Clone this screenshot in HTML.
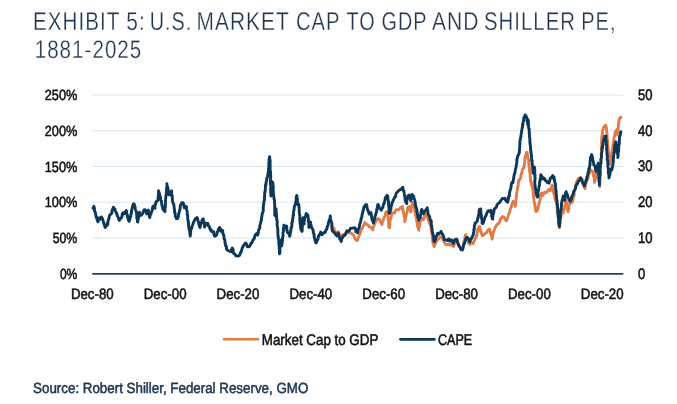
<!DOCTYPE html>
<html lang="en"><head><meta charset="utf-8"><title>Exhibit 5: U.S. Market Cap to GDP and Shiller PE, 1881-2025</title>
<style>
html,body{margin:0;padding:0;background:#fff;}
body{width:677px;height:404px;overflow:hidden;}
svg{display:block;will-change:transform;}

text{font-family:"Liberation Sans",Arial,sans-serif;text-rendering:geometricPrecision;}
</style></head>
<body>
<svg width="677" height="404" viewBox="0 0 677 404">
<rect width="677" height="404" fill="#ffffff"/>
<g class="title" letter-spacing="1.3" stroke="#ffffff" stroke-width="0.3">
<text y="29.5" font-size="25.7" fill="#20364c"><tspan x="33.05" textLength="87.04" lengthAdjust="spacingAndGlyphs">EXHIBIT</tspan> <tspan x="126.37" textLength="19.59" lengthAdjust="spacingAndGlyphs">5:</tspan> <tspan x="149.69" textLength="42.59" lengthAdjust="spacingAndGlyphs">U.S.</tspan> <tspan x="196.51" textLength="92.97" lengthAdjust="spacingAndGlyphs">MARKET</tspan> <tspan x="295.90" textLength="44.20" lengthAdjust="spacingAndGlyphs">CAP</tspan> <tspan x="346.50" textLength="29.20" lengthAdjust="spacingAndGlyphs">TO</tspan> <tspan x="381.53" textLength="45.58" lengthAdjust="spacingAndGlyphs">GDP</tspan> <tspan x="431.95" textLength="47.65" lengthAdjust="spacingAndGlyphs">AND</tspan> <tspan x="483.99" textLength="92.09" lengthAdjust="spacingAndGlyphs">SHILLER</tspan> <tspan x="581.26" textLength="35.26" lengthAdjust="spacingAndGlyphs">PE,</tspan></text>
<text x="34.7" y="57.65" font-size="25.4" textLength="107.6" lengthAdjust="spacingAndGlyphs" fill="#20364c" text-anchor="start" >1881-2025</text>
</g>
<g stroke="#d8e6ef" stroke-width="1.05"><line x1="92.3" x2="623.3" y1="238.05" y2="238.05"/><line x1="92.3" x2="623.3" y1="202.30" y2="202.30"/><line x1="92.3" x2="623.3" y1="166.55" y2="166.55"/><line x1="92.3" x2="623.3" y1="130.80" y2="130.80"/><line x1="92.3" x2="623.3" y1="95.05" y2="95.05"/></g>
<g class="ylabels" stroke="#111" stroke-width="0.55"><text x="77.3" y="278.7" font-size="14.7" textLength="17.4" lengthAdjust="spacingAndGlyphs" fill="#111" text-anchor="end" >0%</text><text x="77.3" y="243.1" font-size="14.7" textLength="24.6" lengthAdjust="spacingAndGlyphs" fill="#111" text-anchor="end" >50%</text><text x="77.3" y="206.7" font-size="14.7" textLength="32.5" lengthAdjust="spacingAndGlyphs" fill="#111" text-anchor="end" >100%</text><text x="77.3" y="171.5" font-size="14.7" textLength="32.5" lengthAdjust="spacingAndGlyphs" fill="#111" text-anchor="end" >150%</text><text x="77.3" y="135.8" font-size="14.7" textLength="32.5" lengthAdjust="spacingAndGlyphs" fill="#111" text-anchor="end" >200%</text><text x="77.3" y="99.7" font-size="14.7" textLength="32.5" lengthAdjust="spacingAndGlyphs" fill="#111" text-anchor="end" >250%</text></g>
<g class="rlabels" stroke="#111" stroke-width="0.55"><text x="637.9" y="278.6" font-size="15.2" textLength="7.2" lengthAdjust="spacingAndGlyphs" fill="#111" text-anchor="start" >0</text><text x="637.9" y="243.0" font-size="15.2" textLength="14.5" lengthAdjust="spacingAndGlyphs" fill="#111" text-anchor="start" >10</text><text x="637.9" y="206.6" font-size="15.2" textLength="14.5" lengthAdjust="spacingAndGlyphs" fill="#111" text-anchor="start" >20</text><text x="637.9" y="171.4" font-size="15.2" textLength="14.5" lengthAdjust="spacingAndGlyphs" fill="#111" text-anchor="start" >30</text><text x="637.9" y="135.7" font-size="15.2" textLength="14.5" lengthAdjust="spacingAndGlyphs" fill="#111" text-anchor="start" >40</text><text x="637.9" y="99.6" font-size="15.2" textLength="14.5" lengthAdjust="spacingAndGlyphs" fill="#111" text-anchor="start" >50</text></g>
<path d="M332.5,226.2 L333.1,227.1 L334.0,228.5 L334.7,230.2 L335.3,231.6 L336.1,232.8 L336.9,233.6 L337.8,233.7 L338.4,231.8 L339.1,234.1 L339.5,234.3 L340.2,234.9 L341.7,236.5 L343.0,234.6 L344.5,234.3 L344.8,235.4 L346.1,234.0 L347.0,232.5 L348.8,232.3 L351.1,233.1 L352.9,234.4 L353.5,235.0 L354.3,236.8 L354.5,237.8 L355.3,239.4 L356.1,239.7 L356.9,240.6 L357.3,240.5 L357.9,238.8 L358.2,238.0 L358.9,236.6 L359.3,235.1 L359.6,234.4 L360.0,232.8 L360.7,232.3 L361.1,230.5 L361.5,229.2 L362.5,228.3 L363.2,225.8 L363.7,225.4 L364.2,224.1 L364.9,222.6 L366.9,224.6 L367.9,224.8 L369.1,226.8 L370.9,227.1 L371.9,228.8 L372.9,229.8 L373.1,227.7 L373.6,227.1 L374.4,224.6 L374.6,223.4 L375.3,222.5 L376.2,220.8 L376.6,220.0 L377.4,219.3 L378.4,218.5 L378.8,219.3 L379.6,219.4 L380.4,221.6 L381.0,222.6 L381.4,223.0 L382.0,224.4 L382.4,222.1 L383.0,221.0 L383.5,219.4 L383.7,218.3 L384.2,217.4 L384.5,217.0 L385.2,214.6 L385.5,213.5 L386.0,211.9 L386.8,211.9 L387.0,212.4 L387.2,213.2 L387.7,214.8 L388.1,215.9 L387.8,218.5 L388.2,218.5 L388.4,219.6 L388.5,222.4 L388.8,223.3 L388.7,224.1 L388.7,226.0 L389.1,227.3 L389.1,227.7 L389.5,227.7 L389.7,226.2 L389.9,224.9 L389.8,223.3 L390.0,221.3 L390.0,220.5 L390.3,219.9 L390.9,218.3 L391.0,217.9 L391.5,215.7 L391.6,214.2 L392.0,212.9 L392.7,212.8 L394.4,213.1 L395.0,212.3 L395.3,210.7 L396.4,209.6 L398.4,210.1 L399.1,209.3 L400.2,208.0 L402.5,206.5 L402.5,208.7 L402.9,208.7 L402.9,210.0 L403.6,212.3 L403.5,213.6 L404.1,214.7 L404.0,215.9 L404.1,216.4 L404.7,218.7 L404.7,220.5 L404.8,221.8 L405.3,219.5 L405.3,218.4 L405.6,217.7 L405.9,216.2 L406.1,215.8 L406.5,213.7 L406.9,213.0 L407.1,211.6 L407.4,209.6 L407.7,207.3 L409.3,206.6 L409.4,208.8 L409.9,209.6 L410.6,211.0 L410.8,212.1 L411.1,211.3 L411.0,209.7 L411.3,208.0 L411.7,207.1 L411.8,206.3 L412.2,204.5 L412.2,203.3 L412.3,202.4 L413.0,203.6 L413.7,205.8 L414.0,206.9 L414.4,207.1 L414.5,209.4 L414.8,209.3 L414.7,211.0 L415.0,212.1 L415.3,214.2 L415.9,216.0 L415.9,217.1 L416.4,217.6 L416.7,220.2 L416.6,221.5 L416.9,222.0 L417.4,223.8 L417.1,224.5 L417.5,225.6 L417.6,226.9 L418.3,227.9 L418.8,230.1 L418.7,228.5 L419.3,227.4 L419.2,226.8 L419.8,225.3 L419.7,222.8 L420.1,222.4 L420.5,220.1 L420.9,220.1 L421.5,217.8 L423.2,219.8 L424.1,218.1 L424.5,215.8 L425.4,215.0 L425.8,214.8 L426.8,213.6 L426.8,214.9 L427.0,216.2 L427.5,216.6 L427.8,218.8 L428.1,218.9 L428.6,220.4 L428.8,221.6 L429.4,223.2 L430.3,224.9 L430.7,226.2 L430.8,227.3 L431.0,228.4 L431.2,229.8 L431.7,232.0 L431.6,233.2 L432.2,233.8 L432.2,235.6 L432.2,237.5 L432.3,238.2 L432.6,240.3 L432.6,241.3 L432.9,242.2 L432.9,243.0 L433.5,244.2 L434.2,246.7 L434.7,244.4 L435.1,244.1 L436.0,242.5 L436.5,240.8 L437.3,240.2 L438.0,238.9 L438.9,238.4 L440.3,237.0 L440.9,237.0 L441.6,237.0 L442.2,238.0 L443.1,239.7 L443.7,241.3 L444.4,242.4 L445.2,244.1 L447.2,244.5 L449.4,244.4 L451.5,245.3 L453.6,246.5 L454.1,245.5 L454.5,243.3 L455.3,241.7 L455.9,241.5 L456.3,240.8 L457.2,241.8 L457.5,243.4 L457.7,244.3 L458.7,245.8 L459.7,246.8 L460.4,248.4 L461.2,249.6 L462.4,248.5 L462.6,247.7 L462.9,247.0 L463.4,245.3 L463.7,243.9 L463.9,241.5 L464.3,241.5 L464.5,240.0 L464.8,238.0 L465.1,237.2 L465.1,236.0 L465.6,234.7 L466.4,237.2 L466.9,237.4 L467.3,239.3 L467.9,240.6 L468.2,241.2 L468.4,242.9 L470.1,244.6 L470.8,242.8 L471.3,241.9 L473.3,243.6 L473.9,241.6 L474.4,240.6 L475.0,238.7 L475.7,237.5 L476.3,237.3 L476.4,235.2 L477.0,234.8 L477.1,232.5 L477.3,232.4 L477.6,230.6 L477.8,229.3 L478.9,227.1 L479.6,226.2 L479.9,227.8 L479.9,229.3 L480.4,229.1 L480.5,231.0 L481.0,231.9 L481.6,233.5 L482.3,235.8 L483.8,234.7 L486.2,232.6 L486.9,232.6 L487.6,230.9 L488.0,230.1 L489.7,229.0 L489.8,230.1 L490.2,230.8 L490.5,233.4 L491.0,235.0 L491.3,235.2 L491.7,236.4 L492.0,239.0 L492.5,237.4 L492.7,236.1 L493.1,234.1 L493.3,231.9 L493.6,231.2 L494.4,230.0 L495.0,227.5 L496.0,226.3 L496.4,225.3 L497.0,224.6 L499.3,222.8 L499.7,221.6 L500.1,220.5 L500.4,218.9 L501.0,218.8 L502.1,216.7 L503.3,217.0 L503.9,216.9 L504.6,218.1 L505.4,219.3 L506.0,220.8 L506.7,220.5 L507.3,218.4 L507.7,217.2 L508.2,215.6 L508.5,214.2 L509.4,212.6 L509.6,212.1 L510.1,210.2 L510.2,209.0 L510.7,208.1 L511.3,207.4 L511.6,204.9 L511.6,204.7 L512.4,203.1 L513.0,201.3 L513.7,201.8 L514.3,202.9 L514.7,203.2 L514.6,204.3 L515.2,206.4 L515.6,205.1 L515.7,203.7 L515.8,202.0 L515.8,201.0 L516.0,199.8 L516.4,197.4 L516.3,195.9 L516.7,195.2 L516.6,192.8 L517.0,192.2 L517.3,189.6 L517.6,187.9 L517.6,187.4 L518.1,186.4 L518.3,184.8 L518.1,183.1 L518.7,182.6 L518.5,180.2 L519.5,180.0 L520.4,178.1 L520.8,177.9 L520.9,175.2 L521.2,174.6 L521.6,173.0 L522.0,172.6 L522.1,170.5 L522.6,169.5 L523.4,168.1 L524.1,167.7 L524.2,166.8 L524.4,164.3 L524.4,163.4 L524.8,163.1 L524.6,160.9 L524.8,160.6 L524.9,157.9 L525.0,157.2 L525.5,156.7 L525.6,155.7 L526.3,153.1 L526.5,152.5 L527.1,152.4 L527.4,154.4 L527.5,155.7 L527.8,156.6 L528.0,158.4 L528.5,159.3 L528.7,160.6 L528.6,162.8 L529.0,163.5 L528.8,164.8 L529.1,166.7 L529.1,167.1 L529.6,167.8 L529.4,170.3 L529.7,170.3 L529.5,171.6 L530.0,173.1 L530.1,175.4 L530.0,175.6 L530.4,177.4 L530.3,178.8 L530.5,179.3 L530.6,181.4 L531.3,182.4 L531.5,182.7 L531.5,184.8 L532.3,187.0 L532.5,187.4 L532.6,189.0 L533.0,189.7 L533.0,191.8 L533.2,193.1 L533.2,193.6 L533.2,194.9 L533.6,195.8 L533.6,198.2 L533.8,198.4 L534.0,200.5 L534.3,202.6 L534.9,203.9 L534.7,203.8 L534.8,205.7 L535.3,206.9 L535.2,208.2 L535.6,209.9 L535.8,211.4 L536.0,211.6 L537.4,210.8 L537.6,209.8 L538.0,208.3 L538.0,207.1 L538.2,207.0 L538.7,204.9 L538.9,204.7 L539.2,202.3 L539.6,201.8 L539.9,199.7 L539.9,199.6 L540.3,198.6 L540.2,196.4 L540.5,195.0 L541.2,194.4 L541.5,192.9 L542.3,194.0 L542.8,195.5 L543.8,193.0 L544.4,192.3 L546.2,192.9 L546.8,191.6 L547.5,191.2 L548.4,189.6 L550.1,190.8 L550.8,189.4 L551.0,188.2 L551.7,187.5 L551.7,185.6 L552.3,185.1 L552.6,185.7 L552.6,188.0 L553.0,188.7 L553.2,191.1 L553.4,191.8 L553.7,192.9 L554.3,195.1 L554.3,195.0 L554.8,196.2 L554.8,198.5 L555.3,199.6 L555.8,201.1 L556.3,201.2 L556.5,203.2 L557.0,205.0 L556.8,205.7 L557.1,206.7 L557.1,207.6 L557.4,209.8 L557.3,210.3 L557.8,212.3 L557.6,212.2 L558.1,214.7 L558.0,214.5 L558.3,216.2 L558.4,217.8 L558.6,218.2 L558.7,219.6 L558.6,221.8 L559.0,221.9 L558.8,223.5 L559.1,224.6 L559.0,225.6 L559.5,227.9 L559.3,226.0 L559.9,223.9 L560.1,222.7 L560.2,222.1 L560.4,220.5 L560.5,219.6 L560.7,218.4 L561.0,216.8 L560.9,215.7 L561.4,213.7 L561.7,213.3 L561.8,211.0 L562.0,209.5 L562.5,211.6 L563.2,213.1 L563.7,211.0 L564.0,209.7 L564.4,209.4 L564.5,206.8 L564.8,205.9 L565.2,204.3 L565.4,204.5 L565.5,203.0 L565.4,202.1 L565.8,200.8 L566.3,200.8 L566.5,203.3 L566.5,203.6 L567.1,204.6 L567.4,206.2 L567.6,207.4 L567.6,210.0 L567.7,210.4 L568.0,211.9 L568.0,210.4 L568.3,210.4 L568.9,209.0 L568.8,207.6 L569.0,206.0 L569.5,204.5 L569.8,203.6 L569.9,202.9 L569.8,201.9 L570.8,202.0 L571.6,202.7 L572.4,201.7 L572.8,200.5 L573.1,198.3 L573.6,196.9 L573.9,196.0 L574.1,195.9 L574.2,193.5 L574.3,191.0 L574.5,189.9 L575.0,188.9 L575.3,188.2 L575.4,185.8 L576.0,184.2 L576.1,183.5 L576.6,182.2 L577.0,181.3 L578.0,179.2 L578.8,178.1 L580.0,177.9 L580.8,178.1 L581.6,180.4 L582.3,181.9 L582.4,182.3 L582.6,184.2 L583.2,185.0 L584.1,186.6 L585.0,188.6 L585.0,187.6 L585.3,185.8 L585.8,184.0 L586.0,183.6 L586.4,182.0 L587.2,180.1 L587.3,179.6 L587.8,178.4 L588.3,176.4 L588.4,175.3 L588.6,175.0 L589.4,173.5 L589.8,172.2 L590.9,170.1 L592.3,171.1 L592.6,171.8 L593.0,173.1 L593.5,175.6 L593.9,177.1 L594.1,177.6 L594.3,179.3 L594.6,180.8 L594.5,182.4 L595.1,180.5 L595.2,179.0 L595.1,178.1 L595.6,178.1 L595.8,175.9 L596.1,174.7 L596.0,174.4 L596.4,172.9 L596.7,172.1 L596.8,170.7 L597.2,169.5 L597.4,168.1 L597.7,166.2 L597.8,165.5 L598.0,164.8 L598.2,164.7 L598.4,167.5 L598.7,167.6 L598.7,168.7 L599.2,171.0 L599.4,172.5 L599.1,173.5 L599.3,175.2 L599.5,176.5 L599.2,177.8 L599.6,179.1 L599.3,179.2 L599.3,180.2 L599.7,182.7 L599.6,184.0 L599.7,184.4 L599.4,185.3 L599.8,186.7 L599.6,185.9 L599.5,184.4 L599.7,183.9 L599.8,182.0 L600.2,181.1 L600.2,180.1 L599.8,178.5 L600.1,177.9 L600.1,176.6 L600.3,174.6 L600.5,173.1 L600.5,172.0 L600.2,170.9 L600.6,170.9 L600.3,168.8 L600.6,168.1 L600.5,166.3 L600.7,165.6 L600.7,164.5 L600.8,162.0 L601.1,161.2 L600.9,160.1 L600.9,159.1 L601.3,157.8 L601.3,155.8 L601.2,154.6 L601.5,152.9 L601.5,151.5 L601.2,150.6 L601.6,149.7 L601.4,149.0 L601.3,147.1 L601.5,146.2 L601.7,144.8 L601.5,143.0 L601.4,142.6 L601.7,141.1 L601.5,139.3 L601.8,138.3 L601.7,136.8 L602.3,135.1 L602.1,133.8 L602.6,133.4 L602.5,130.9 L602.7,129.9 L603.4,128.3 L603.7,127.0 L604.5,126.5 L605.5,125.2 L605.7,125.7 L606.4,127.8 L606.6,128.6 L606.5,130.4 L606.6,130.9 L606.8,131.9 L606.9,134.4 L607.2,135.2 L607.2,136.5 L607.1,138.0 L607.3,139.5 L607.6,140.2 L607.5,142.0 L607.6,142.5 L607.8,144.8 L607.9,145.8 L608.1,147.0 L608.1,148.0 L608.0,149.5 L608.0,150.5 L608.5,152.2 L608.5,152.7 L608.5,154.4 L608.7,155.6 L608.9,157.7 L608.7,158.5 L609.2,159.3 L609.3,161.4 L609.3,161.9 L609.5,163.5 L610.1,164.3 L609.9,163.2 L610.3,162.2 L610.5,160.9 L610.9,159.5 L610.9,159.0 L611.0,157.3 L611.3,156.3 L611.3,155.4 L611.6,152.7 L611.8,152.1 L611.9,150.9 L612.3,150.1 L612.4,148.2 L612.6,147.8 L613.1,146.2 L612.9,145.3 L613.2,143.1 L613.2,142.6 L613.7,141.1 L613.7,139.6 L613.8,138.9 L614.1,137.2 L614.6,136.3 L614.7,134.2 L615.1,132.7 L615.5,131.9 L616.7,129.8 L616.7,131.0 L616.9,132.1 L616.9,134.3 L617.2,134.7 L617.4,133.8 L617.6,132.8 L617.8,131.1 L618.1,130.6 L617.8,129.2 L618.4,127.9 L618.2,126.6 L618.6,123.9 L618.5,124.0 L619.0,121.5 L618.9,119.9 L619.2,119.5 L620.0,117.5 L621.0,117.5" fill="none" stroke="#e07b48" stroke-width="2.85" stroke-linejoin="round" stroke-linecap="round"/>
<path d="M93.0,208.2 L93.9,206.3 L94.2,207.7 L94.5,208.0 L94.4,210.7 L94.7,210.9 L95.3,212.6 L95.5,213.7 L95.8,214.3 L96.1,216.7 L96.3,217.6 L96.7,217.5 L97.1,219.6 L97.2,219.8 L97.8,221.8 L98.1,221.4 L98.5,220.3 L98.7,218.9 L99.0,218.0 L99.8,217.8 L99.9,219.4 L101.0,218.4 L101.5,216.9 L102.3,218.6 L103.0,220.4 L103.5,222.2 L103.8,223.4 L104.3,224.7 L104.5,224.3 L104.9,227.0 L105.3,227.4 L106.2,225.8 L107.3,225.4 L107.3,223.3 L107.9,223.8 L107.9,222.2 L108.3,219.8 L108.6,219.7 L109.2,217.1 L109.5,215.7 L109.9,214.9 L110.3,214.7 L111.7,213.5 L112.0,210.7 L112.6,209.4 L112.8,208.9 L113.4,207.2 L113.5,207.3 L114.1,208.6 L114.9,208.8 L115.1,210.3 L115.7,211.6 L116.2,212.8 L117.0,213.9 L117.1,215.3 L117.3,215.7 L118.0,217.2 L118.2,217.4 L118.8,219.4 L119.3,220.5 L120.4,218.5 L121.2,218.2 L121.7,216.9 L122.1,216.4 L122.1,214.1 L122.9,214.6 L123.0,212.6 L124.8,213.5 L125.2,212.4 L125.6,211.9 L126.1,210.4 L126.6,211.1 L126.8,213.7 L126.9,214.1 L127.5,215.5 L127.4,217.1 L128.0,217.7 L128.1,219.3 L128.7,220.6 L129.0,221.3 L129.2,220.9 L129.9,219.4 L130.1,217.6 L130.4,216.5 L130.8,216.5 L130.7,214.3 L131.3,213.8 L131.5,212.1 L131.4,210.9 L132.0,209.7 L132.0,208.8 L132.3,207.6 L132.7,206.0 L132.5,206.3 L133.2,205.2 L133.2,204.0 L134.2,204.2 L134.9,206.8 L135.2,207.5 L135.3,208.5 L135.5,209.3 L136.0,211.0 L136.4,211.8 L136.6,214.2 L136.8,215.8 L137.0,216.4 L136.7,217.9 L136.9,218.3 L137.4,219.9 L137.4,221.9 L137.7,222.0 L137.7,221.6 L138.1,220.2 L138.2,217.9 L138.6,217.7 L138.6,216.3 L139.2,215.1 L139.4,212.3 L140.3,215.2 L141.0,215.4 L141.8,214.8 L142.5,213.7 L143.4,211.7 L143.7,210.8 L144.4,209.6 L145.5,209.9 L145.5,210.5 L146.0,211.4 L146.4,213.2 L146.9,214.0 L147.2,212.6 L147.6,211.7 L148.4,210.0 L148.3,210.8 L148.7,212.8 L149.1,213.5 L149.4,215.1 L149.4,215.9 L149.7,217.6 L150.0,216.4 L150.5,214.5 L150.9,214.1 L151.1,212.5 L151.6,212.1 L152.2,209.9 L152.5,209.4 L152.5,207.6 L152.8,207.0 L153.4,205.9 L154.3,207.0 L155.0,208.3 L154.9,207.2 L155.1,205.2 L155.7,203.9 L155.6,202.8 L156.3,201.8 L156.1,201.8 L157.5,200.8 L158.0,199.5 L158.2,197.7 L158.3,195.5 L158.4,195.0 L158.5,193.0 L158.7,193.2 L158.5,190.8 L159.3,193.2 L159.6,193.6 L159.8,195.6 L160.3,196.4 L160.4,197.6 L160.6,198.8 L160.7,200.2 L161.4,201.2 L161.5,201.9 L161.7,204.2 L162.0,204.9 L162.1,206.3 L162.5,206.6 L162.8,209.2 L164.0,210.3 L164.9,211.6 L164.9,209.6 L165.0,209.1 L165.1,207.3 L165.4,207.4 L165.2,205.8 L165.4,204.9 L165.5,202.7 L165.4,201.1 L165.6,200.6 L165.6,199.4 L165.7,199.0 L165.7,198.2 L165.9,196.3 L166.0,195.6 L166.3,193.9 L166.2,192.9 L166.5,191.2 L166.6,191.0 L166.5,188.4 L166.5,188.1 L166.8,187.3 L167.0,184.8 L166.8,183.7 L167.1,185.8 L167.8,187.5 L167.8,188.8 L168.0,189.2 L168.4,189.7 L168.3,192.2 L168.5,192.6 L168.8,194.3 L168.7,194.9 L170.3,194.1 L170.7,192.8 L171.6,190.9 L171.5,191.7 L171.6,194.0 L171.6,195.7 L172.2,195.6 L172.3,197.4 L172.4,199.3 L172.3,200.5 L172.8,202.0 L173.0,203.1 L173.7,204.3 L173.8,204.5 L174.0,206.2 L174.2,208.1 L174.3,208.5 L174.6,210.6 L174.5,212.4 L174.9,212.3 L175.2,213.6 L175.3,215.9 L175.7,216.8 L176.1,217.9 L176.3,218.7 L177.6,218.6 L178.2,217.2 L178.5,215.7 L178.5,214.5 L179.1,212.7 L179.2,211.9 L179.6,211.0 L179.6,209.9 L180.0,209.4 L180.1,208.3 L180.3,206.1 L180.6,204.7 L181.2,204.6 L181.9,202.6 L183.0,202.6 L183.5,203.8 L183.6,204.0 L183.8,205.3 L184.2,207.1 L184.3,207.8 L185.4,206.2 L186.2,206.5 L186.5,206.8 L186.5,208.4 L186.7,210.3 L186.9,210.3 L187.2,211.8 L187.3,213.4 L187.2,214.7 L187.7,215.5 L187.7,216.7 L187.7,218.1 L187.7,219.3 L188.2,220.4 L188.2,222.6 L188.5,222.4 L188.6,224.5 L188.4,225.3 L188.7,226.0 L189.0,228.7 L189.1,229.9 L189.4,229.8 L189.7,231.8 L189.9,233.3 L190.0,233.8 L190.2,236.1 L190.5,234.0 L190.7,233.0 L190.6,231.0 L190.8,230.1 L191.1,229.5 L191.6,228.4 L191.8,227.4 L192.2,225.8 L192.8,224.5 L192.9,224.2 L193.6,222.0 L194.1,221.3 L194.9,219.8 L195.2,218.7 L197.2,217.6 L197.5,219.0 L197.9,220.3 L198.5,221.7 L198.5,222.8 L198.9,224.7 L199.1,225.0 L199.6,226.9 L200.0,227.5 L200.2,226.9 L200.3,226.7 L200.7,224.0 L201.2,222.9 L201.6,222.0 L202.1,220.0 L203.2,218.9 L203.5,220.4 L203.8,221.2 L203.7,222.4 L204.2,224.2 L204.2,224.4 L204.6,227.1 L205.4,224.2 L205.9,223.1 L207.8,223.4 L208.3,225.9 L209.2,226.4 L209.8,228.3 L210.4,230.1 L211.1,229.5 L211.5,231.5 L213.8,231.6 L213.8,234.1 L214.1,234.4 L214.6,236.0 L215.2,236.2 L215.9,235.9 L216.8,234.3 L217.3,232.8 L217.5,231.5 L218.2,230.8 L218.4,229.1 L219.1,228.8 L219.5,227.4 L219.9,228.0 L220.6,228.9 L221.0,231.3 L222.7,230.5 L222.8,233.1 L223.3,234.5 L223.7,235.0 L224.0,236.8 L224.0,237.4 L224.1,238.8 L224.8,239.6 L224.9,240.9 L225.0,243.2 L225.3,243.4 L225.7,245.9 L226.3,246.1 L226.5,249.2 L226.9,249.8 L228.6,250.8 L230.7,251.8 L231.6,249.5 L232.3,248.1 L233.2,249.5 L233.3,252.4 L233.9,253.6 L234.9,254.0 L236.0,255.9 L238.2,256.0 L239.2,255.7 L240.0,254.5 L240.5,252.5 L241.1,252.3 L241.5,250.5 L241.7,249.9 L242.2,248.1 L242.5,247.7 L242.9,246.7 L243.7,245.3 L244.2,244.5 L245.6,243.0 L246.6,244.3 L246.9,245.2 L247.4,246.7 L248.8,246.7 L249.7,246.1 L250.3,245.0 L250.9,243.1 L251.8,243.0 L252.5,241.1 L253.0,239.8 L253.8,239.6 L254.3,238.3 L255.0,235.5 L256.0,234.3 L256.6,233.5 L257.0,234.7 L257.7,235.1 L257.9,234.5 L258.4,232.5 L258.3,231.3 L258.7,229.8 L258.8,229.8 L259.3,229.0 L259.8,227.7 L259.8,225.2 L260.1,224.5 L260.5,223.4 L260.7,222.8 L260.9,220.9 L261.5,220.4 L261.4,218.2 L261.9,216.6 L261.8,216.4 L262.2,214.5 L262.2,213.3 L262.7,212.5 L263.1,211.8 L263.3,209.1 L263.1,207.8 L263.4,207.1 L263.4,206.2 L263.5,204.6 L263.7,204.3 L263.9,202.2 L263.9,201.4 L264.3,200.7 L264.5,199.7 L264.3,197.3 L264.6,197.3 L264.6,196.1 L264.7,193.9 L264.7,192.3 L265.0,192.6 L265.2,190.7 L265.2,190.3 L265.4,188.5 L265.4,187.1 L265.5,185.2 L265.9,185.4 L266.0,183.1 L266.2,181.9 L266.6,180.7 L266.9,178.9 L266.7,178.3 L267.1,177.6 L267.7,176.5 L267.9,173.6 L268.3,173.3 L268.3,171.7 L268.5,171.7 L268.3,170.1 L268.5,168.6 L268.8,168.3 L268.8,165.7 L269.0,164.5 L268.8,164.6 L268.8,162.4 L269.2,162.4 L269.0,160.3 L269.1,158.7 L269.1,159.0 L269.6,156.7 L269.7,157.6 L269.9,159.9 L270.2,160.9 L270.2,160.9 L270.0,163.8 L269.9,163.7 L270.2,164.9 L270.2,165.6 L270.1,168.4 L270.1,169.5 L270.2,170.8 L270.5,171.3 L270.3,171.4 L270.6,172.9 L270.3,175.2 L270.7,175.0 L270.8,177.1 L270.5,177.5 L270.5,180.3 L270.5,180.0 L270.4,181.2 L270.6,183.8 L270.4,183.7 L270.9,186.4 L270.9,186.2 L270.6,188.7 L270.7,189.5 L270.7,189.4 L270.7,192.0 L270.9,192.8 L270.8,194.0 L270.8,195.2 L271.0,195.8 L271.0,196.0 L271.2,193.4 L271.3,193.5 L271.0,191.3 L271.1,189.7 L271.5,189.2 L271.6,187.5 L271.2,187.7 L271.7,186.8 L271.7,184.8 L271.8,182.9 L271.8,182.3 L271.7,181.5 L272.8,182.3 L272.9,183.1 L272.9,184.8 L273.3,186.6 L273.3,187.6 L273.1,189.0 L273.1,188.6 L273.3,190.9 L273.3,191.9 L273.3,193.7 L273.5,194.0 L273.6,195.8 L273.9,196.4 L273.9,197.7 L273.9,198.5 L274.6,200.3 L274.4,201.6 L274.6,203.0 L274.6,202.8 L274.7,205.2 L274.7,206.3 L274.8,206.5 L274.7,208.0 L274.7,208.9 L274.9,211.0 L274.8,210.8 L274.7,212.4 L274.9,213.2 L274.6,214.6 L274.8,215.3 L275.1,215.7 L275.2,214.2 L275.5,213.2 L275.7,211.3 L275.8,209.6 L276.1,208.9 L276.0,211.0 L276.0,211.0 L276.4,213.0 L276.1,213.2 L276.4,214.4 L276.7,215.9 L276.5,217.5 L276.8,218.8 L276.9,220.4 L277.0,220.7 L277.3,223.0 L277.0,223.7 L277.4,226.0 L277.2,225.4 L277.5,227.4 L277.9,229.3 L277.7,229.8 L277.9,231.9 L277.8,232.2 L277.9,233.9 L277.9,235.6 L278.3,236.2 L278.2,236.7 L278.5,239.1 L278.6,239.3 L278.9,241.1 L278.8,241.5 L278.8,244.0 L278.8,244.6 L279.1,245.5 L279.3,247.8 L279.5,248.7 L279.2,248.7 L279.5,250.5 L279.4,252.7 L279.5,253.9 L280.0,251.4 L280.1,250.7 L279.8,249.2 L279.8,248.6 L280.1,248.0 L280.4,245.4 L280.3,244.8 L280.3,243.4 L280.4,243.0 L280.5,240.7 L280.6,240.1 L281.0,241.0 L281.4,242.2 L281.7,244.2 L281.7,245.7 L282.0,244.1 L282.2,243.0 L282.2,240.7 L282.5,240.9 L282.5,239.1 L282.5,238.5 L282.9,236.0 L283.1,236.1 L282.9,234.9 L283.1,232.1 L283.4,231.2 L283.5,230.3 L283.3,229.0 L283.8,227.6 L283.8,227.1 L283.9,225.2 L284.6,227.3 L285.2,227.5 L285.9,226.8 L286.2,225.9 L286.7,226.4 L286.9,228.1 L286.9,228.3 L286.7,230.2 L287.3,230.8 L287.3,232.3 L288.6,233.6 L289.4,234.5 L289.7,236.3 L290.0,235.5 L290.2,233.7 L290.4,232.6 L290.8,230.9 L290.7,230.5 L291.0,229.3 L291.2,227.5 L291.5,227.7 L291.9,225.8 L291.8,223.7 L291.9,222.9 L292.5,221.4 L292.6,220.8 L292.6,219.2 L293.0,217.8 L293.0,217.2 L293.0,215.4 L293.5,215.2 L293.6,214.1 L293.4,212.5 L293.9,210.4 L294.0,210.5 L294.1,208.8 L294.2,207.4 L294.6,205.9 L295.0,205.3 L295.5,203.3 L295.8,201.9 L296.1,200.4 L296.1,199.8 L296.2,197.5 L296.3,197.4 L296.4,196.3 L296.8,195.5 L297.0,196.2 L296.9,196.1 L297.1,198.6 L297.4,198.8 L297.1,201.3 L297.6,201.6 L297.7,202.1 L297.7,204.2 L297.8,204.5 L298.6,204.3 L299.0,204.6 L298.7,205.7 L299.1,207.4 L299.1,209.6 L299.2,209.5 L299.3,210.1 L299.2,212.6 L299.2,212.5 L299.5,214.2 L299.8,215.0 L299.8,216.6 L299.8,217.9 L299.9,218.8 L299.8,220.3 L300.2,221.3 L300.0,222.7 L300.1,223.7 L300.5,225.4 L300.6,226.1 L300.5,226.9 L300.8,228.4 L301.0,229.8 L302.1,231.4 L302.2,230.4 L302.2,228.7 L302.2,226.9 L302.5,226.5 L302.2,226.0 L302.6,224.3 L302.6,222.2 L303.0,221.1 L302.7,221.4 L302.7,219.3 L303.0,217.7 L303.5,219.2 L303.2,220.6 L303.5,222.3 L304.2,223.9 L304.0,222.3 L304.3,220.7 L304.5,219.2 L304.6,218.6 L304.8,218.0 L305.5,216.5 L306.2,213.4 L307.9,215.2 L308.1,216.4 L308.1,216.8 L308.3,218.8 L308.5,219.1 L308.2,221.5 L308.7,222.2 L308.8,223.7 L308.7,224.7 L308.9,225.1 L308.9,227.6 L309.2,225.9 L309.6,224.4 L310.1,223.9 L310.6,222.1 L310.6,223.1 L310.8,224.1 L311.3,226.0 L311.4,226.4 L311.6,227.6 L312.4,228.8 L313.2,230.3 L313.2,231.2 L313.3,233.0 L313.9,233.5 L314.1,234.5 L314.1,235.6 L314.3,237.4 L314.8,238.8 L314.9,240.1 L315.4,240.6 L315.7,241.9 L315.9,243.1 L316.6,242.3 L317.2,240.0 L317.6,239.8 L318.0,239.0 L318.1,237.5 L318.9,235.2 L319.1,235.6 L319.7,234.2 L320.7,232.1 L321.0,233.0 L322.0,234.7 L323.4,233.1 L324.7,232.0 L325.2,232.4 L325.9,230.3 L326.8,228.9 L326.9,228.9 L327.3,226.4 L328.0,225.2 L328.3,224.1 L328.4,222.7 L328.8,222.0 L329.1,220.6 L329.4,219.9 L330.0,218.5 L330.3,216.0 L330.3,217.5 L330.5,220.2 L331.2,221.3 L331.3,221.2 L331.5,222.4 L331.9,223.9 L331.7,226.3 L331.8,227.4 L332.0,228.1 L332.0,229.6 L332.3,229.8 L332.6,231.4 L333.1,231.5 L334.0,232.4 L335.7,234.5 L336.8,235.9 L337.3,234.4 L338.2,233.0 L338.4,233.9 L338.8,235.9 L339.2,237.0 L339.5,236.9 L339.9,239.3 L340.6,239.6 L341.2,241.5 L341.6,239.5 L342.0,237.8 L342.6,237.6 L343.2,236.4 L343.9,235.7 L344.4,235.1 L344.8,234.9 L345.8,233.4 L346.9,230.8 L348.0,231.5 L349.2,230.9 L350.3,228.7 L351.0,228.1 L353.2,228.1 L354.8,227.7 L355.4,228.8 L355.8,230.0 L355.8,231.9 L356.5,231.5 L357.6,232.8 L357.9,231.2 L358.0,231.2 L358.2,229.6 L359.0,227.9 L359.2,227.6 L359.4,226.5 L359.8,223.9 L359.9,223.6 L360.6,221.9 L360.7,220.5 L361.1,219.9 L361.2,219.1 L361.3,218.0 L361.9,217.0 L362.0,214.7 L362.2,214.6 L362.6,212.5 L362.9,211.9 L363.1,210.0 L363.6,209.6 L363.9,207.0 L364.8,206.8 L365.1,204.9 L366.7,204.6 L366.8,205.4 L367.2,207.8 L367.6,209.9 L368.1,210.3 L368.5,211.8 L368.8,212.9 L369.1,214.1 L370.9,212.6 L371.1,213.9 L371.4,214.7 L371.4,216.5 L371.8,217.3 L371.8,218.3 L372.2,220.3 L372.6,220.6 L373.4,223.0 L373.9,221.0 L374.2,219.9 L374.9,218.7 L374.9,217.0 L375.4,215.2 L375.8,214.5 L375.8,213.9 L376.2,212.4 L376.7,211.3 L376.7,209.3 L377.1,208.6 L377.5,207.3 L377.5,205.5 L378.0,204.4 L379.0,206.7 L379.4,208.5 L380.4,208.6 L381.3,210.2 L381.9,208.9 L382.1,207.9 L382.9,207.7 L383.2,205.2 L383.4,205.0 L383.6,204.1 L384.3,202.9 L384.7,201.0 L385.2,199.1 L385.3,197.6 L385.6,197.6 L386.3,196.3 L387.1,195.3 L387.6,196.3 L387.9,196.5 L387.8,198.5 L388.2,200.4 L388.5,201.7 L388.6,202.8 L388.4,203.6 L388.7,205.4 L388.6,205.7 L388.8,206.7 L389.0,207.5 L389.0,209.5 L388.9,210.9 L389.1,212.8 L389.4,213.3 L389.8,212.5 L390.0,211.0 L390.8,210.0 L391.0,207.7 L391.0,207.0 L391.3,206.1 L391.7,205.0 L391.9,202.9 L392.4,202.4 L393.0,200.7 L393.8,199.3 L394.5,197.2 L395.5,196.7 L395.9,194.3 L396.1,193.8 L397.0,192.3 L397.7,191.7 L398.8,190.4 L399.9,189.7 L400.9,189.5 L402.9,187.3 L403.1,190.2 L403.5,190.8 L404.0,191.2 L404.2,193.4 L404.3,194.0 L404.5,194.8 L404.7,196.2 L405.1,198.3 L405.1,199.4 L405.2,200.1 L405.8,202.2 L406.8,203.5 L406.7,202.5 L406.8,200.9 L407.3,198.8 L407.4,199.1 L407.7,196.9 L408.0,195.8 L409.5,194.9 L409.4,197.1 L409.8,197.1 L410.5,198.1 L410.7,200.7 L411.1,198.4 L411.6,197.9 L411.9,196.2 L412.2,194.5 L413.9,196.9 L413.7,196.7 L414.0,199.0 L414.3,199.1 L414.8,200.3 L415.1,202.0 L415.4,203.9 L415.3,205.0 L415.7,205.2 L415.8,207.3 L416.3,207.7 L416.7,208.7 L416.8,209.7 L416.9,212.3 L417.3,212.2 L417.4,214.2 L417.6,215.8 L417.8,217.1 L418.4,218.2 L418.6,218.1 L418.8,220.4 L419.0,218.2 L419.8,218.3 L420.2,217.0 L420.4,215.8 L420.8,214.0 L421.0,211.8 L421.2,210.9 L421.7,209.4 L422.8,211.8 L423.5,213.8 L423.9,212.8 L425.0,210.7 L425.2,210.7 L426.2,209.6 L427.3,207.7 L427.4,208.4 L427.8,210.8 L427.9,212.5 L428.1,214.0 L428.7,215.0 L429.5,216.6 L429.8,217.5 L430.1,219.1 L430.4,220.5 L431.0,220.4 L431.4,222.0 L431.1,223.1 L431.2,224.3 L431.8,226.7 L431.9,227.7 L432.1,228.6 L432.1,228.9 L432.2,230.6 L432.4,232.1 L432.7,232.9 L433.0,234.2 L433.0,234.6 L433.5,235.7 L433.7,238.3 L433.7,239.5 L434.0,240.6 L434.2,241.5 L434.5,241.7 L434.8,241.1 L435.1,240.0 L435.7,239.0 L436.0,236.6 L436.7,236.0 L437.6,233.3 L438.9,234.1 L440.0,232.8 L441.1,231.4 L441.7,233.0 L442.7,234.3 L443.0,235.0 L443.5,236.7 L444.0,238.3 L444.4,239.8 L445.5,239.8 L447.0,240.5 L447.6,240.3 L448.6,238.9 L449.0,239.0 L449.8,241.2 L451.6,239.9 L452.3,241.4 L452.7,242.8 L453.3,243.4 L453.9,241.2 L454.5,240.9 L455.1,239.4 L456.7,239.3 L456.7,239.1 L457.4,240.9 L457.3,241.6 L458.0,242.7 L458.6,245.1 L459.4,246.5 L460.5,248.3 L461.2,249.5 L462.4,249.9 L462.9,248.5 L463.2,247.4 L463.4,246.0 L464.2,243.4 L464.3,243.8 L464.8,242.2 L465.6,239.5 L466.1,238.2 L466.8,237.6 L467.4,237.5 L467.7,237.7 L468.4,239.3 L469.0,239.3 L469.8,241.9 L470.4,239.7 L471.0,238.9 L471.5,238.4 L472.3,236.4 L473.3,234.8 L473.2,234.6 L473.4,233.5 L473.9,231.4 L473.8,229.7 L474.3,229.1 L474.2,227.4 L474.3,227.5 L474.4,225.7 L474.9,224.5 L475.0,223.0 L476.5,222.2 L477.3,220.6 L477.4,220.1 L477.9,217.6 L478.3,217.6 L478.5,215.2 L478.9,214.1 L478.7,214.5 L479.2,212.9 L479.0,211.9 L479.4,209.3 L480.6,208.9 L480.3,209.4 L480.9,210.4 L480.8,212.5 L481.0,214.2 L481.3,215.2 L481.4,215.3 L481.5,217.3 L481.6,218.5 L481.7,219.0 L482.2,220.5 L482.0,222.7 L482.4,223.4 L482.6,223.6 L483.0,223.5 L483.5,222.3 L483.9,220.9 L484.6,218.6 L485.3,216.6 L486.0,215.6 L486.5,214.0 L487.0,212.8 L488.0,210.9 L488.4,210.8 L489.1,210.7 L489.9,211.5 L490.9,210.3 L491.2,213.0 L491.4,213.1 L491.8,213.8 L491.6,216.0 L491.9,216.9 L492.1,218.2 L492.7,219.1 L492.6,218.2 L493.0,216.1 L492.9,215.5 L493.3,214.1 L493.6,212.9 L493.9,211.9 L494.0,210.1 L494.4,209.0 L495.3,208.0 L495.7,208.0 L496.7,206.6 L497.0,204.8 L498.1,203.7 L499.0,202.6 L499.6,202.6 L500.5,201.0 L501.1,200.3 L502.2,198.5 L503.3,198.6 L504.7,198.3 L505.3,198.4 L505.4,199.8 L506.1,200.9 L507.5,202.3 L507.9,201.4 L508.2,199.4 L508.6,198.5 L508.5,197.0 L508.7,196.1 L509.4,195.9 L509.5,193.3 L509.6,192.1 L509.9,191.7 L510.0,190.2 L510.5,189.4 L511.0,187.7 L511.1,186.2 L511.3,185.7 L511.3,184.3 L511.8,182.5 L513.0,182.6 L513.3,180.1 L513.5,179.4 L513.7,177.7 L513.9,176.1 L514.2,175.5 L514.3,174.0 L514.8,173.2 L515.3,170.4 L515.4,169.5 L515.4,169.2 L516.0,167.8 L516.1,166.9 L516.3,164.8 L516.6,163.6 L517.0,161.1 L516.8,160.3 L517.1,158.6 L517.4,158.2 L517.5,156.4 L518.7,154.5 L519.1,152.8 L519.5,152.2 L519.3,150.1 L519.5,149.3 L519.6,147.3 L519.8,146.5 L519.7,145.8 L519.9,143.9 L519.8,142.7 L519.9,141.1 L520.4,139.6 L520.2,139.6 L520.7,137.2 L521.0,136.4 L521.0,135.3 L521.1,134.3 L521.4,132.7 L521.5,131.8 L521.7,130.3 L521.9,129.5 L522.3,127.2 L522.5,127.3 L522.5,124.8 L523.0,124.9 L522.8,123.4 L523.4,121.3 L523.6,120.1 L523.8,119.3 L523.8,117.4 L524.6,117.2 L525.1,114.9 L526.4,116.6 L527.0,118.7 L527.2,119.9 L526.9,120.4 L527.5,122.4 L527.7,123.5 L527.7,124.6 L528.0,122.6 L527.8,121.1 L528.0,119.7 L528.4,120.8 L528.3,121.7 L528.4,123.6 L528.6,125.5 L528.5,125.4 L528.5,127.8 L528.9,128.4 L529.1,128.4 L529.2,130.2 L529.2,131.6 L529.4,132.6 L529.2,133.7 L529.6,135.3 L529.4,136.3 L529.7,137.5 L529.8,139.6 L529.9,140.7 L529.9,142.1 L530.3,142.7 L529.9,143.1 L530.4,145.7 L530.5,146.3 L530.5,146.9 L530.7,149.7 L530.6,150.2 L531.0,151.5 L530.9,152.0 L531.2,154.6 L531.5,154.9 L531.5,157.0 L531.5,158.1 L531.7,158.4 L531.6,160.7 L532.2,160.8 L532.1,162.7 L532.2,164.7 L532.3,165.7 L532.6,166.6 L532.8,168.0 L532.7,169.7 L532.7,170.1 L533.1,172.4 L532.9,173.2 L533.1,171.6 L533.0,170.7 L533.6,168.6 L533.9,167.9 L534.0,167.3 L534.4,167.0 L534.8,169.6 L534.8,170.2 L534.7,171.8 L534.9,173.1 L534.7,174.3 L535.1,175.1 L534.7,175.7 L535.1,177.4 L535.1,179.2 L534.9,179.7 L534.8,182.1 L534.9,183.9 L534.7,184.3 L535.2,184.8 L534.9,186.1 L535.4,187.6 L535.6,189.7 L535.8,189.4 L535.9,192.0 L536.0,193.3 L536.3,194.0 L536.7,195.1 L536.7,195.8 L537.6,197.1 L537.5,196.9 L537.9,195.5 L538.0,193.8 L538.0,192.1 L538.2,191.5 L538.6,189.5 L538.8,188.4 L538.9,187.0 L539.1,186.1 L539.5,185.3 L539.6,184.2 L539.5,183.8 L539.6,182.0 L539.9,181.7 L540.1,178.8 L540.3,178.9 L540.8,176.4 L540.7,174.7 L541.5,175.7 L542.1,177.1 L542.4,179.0 L543.5,177.8 L544.5,178.7 L545.4,180.7 L546.5,181.0 L547.0,182.3 L549.0,183.1 L549.6,181.3 L549.8,180.4 L550.1,179.1 L550.7,177.6 L551.7,177.8 L552.7,175.5 L553.3,177.7 L554.1,177.1 L554.2,179.9 L554.7,180.2 L554.7,182.3 L555.3,183.2 L555.5,184.3 L555.4,184.9 L555.6,186.1 L555.7,187.1 L555.7,189.8 L556.2,190.8 L556.0,191.4 L556.2,193.2 L556.2,193.8 L556.4,195.6 L556.4,195.3 L556.6,198.1 L556.6,198.8 L556.6,199.3 L557.0,200.2 L557.0,202.3 L557.1,203.8 L557.4,204.1 L557.5,206.1 L557.5,207.0 L557.6,208.5 L557.8,208.8 L557.8,210.8 L557.8,212.3 L557.9,212.9 L558.1,214.2 L558.0,215.5 L558.1,216.4 L558.4,217.8 L558.7,219.5 L558.5,220.5 L558.7,221.0 L558.6,222.8 L558.8,222.9 L558.9,224.0 L559.0,225.2 L559.3,226.5 L559.5,226.3 L559.7,224.1 L559.7,223.5 L559.8,221.7 L559.7,221.1 L560.0,219.2 L560.1,217.5 L560.3,217.8 L560.5,215.1 L560.5,215.1 L560.3,213.6 L560.5,211.7 L560.5,210.6 L561.1,210.0 L561.2,209.5 L561.0,208.1 L561.5,206.6 L561.4,204.5 L561.6,203.7 L561.6,203.0 L562.0,201.1 L562.0,200.3 L562.6,199.5 L562.8,198.7 L563.1,196.7 L563.3,195.9 L563.4,196.3 L563.8,198.7 L564.4,199.3 L564.6,200.2 L564.8,199.6 L565.0,199.1 L564.8,198.1 L565.0,196.9 L565.6,194.3 L565.4,193.0 L565.9,192.8 L566.1,191.7 L566.4,193.0 L567.0,193.5 L567.4,195.3 L567.7,196.2 L568.2,197.7 L568.5,198.1 L569.0,199.4 L569.6,199.9 L569.8,201.0 L570.3,201.3 L570.8,199.7 L571.4,198.9 L571.8,196.4 L572.6,195.1 L573.1,193.7 L573.4,193.6 L573.7,191.4 L574.4,190.4 L574.9,190.0 L575.4,188.8 L575.6,187.2 L575.8,187.3 L576.4,184.6 L577.2,184.3 L577.4,183.9 L578.4,181.4 L579.1,180.8 L580.2,178.6 L580.8,177.8 L581.2,179.5 L581.9,179.4 L582.3,181.3 L582.5,182.1 L583.3,183.3 L583.7,184.0 L584.3,185.9 L584.6,185.8 L584.8,184.5 L585.2,183.5 L585.5,182.3 L585.8,181.0 L586.2,179.5 L586.6,179.8 L586.9,178.6 L586.9,176.9 L587.3,176.2 L587.7,174.6 L588.2,172.4 L588.1,172.4 L588.8,170.6 L588.7,168.6 L589.4,168.7 L589.4,167.4 L589.8,165.0 L589.9,165.5 L590.1,164.1 L590.1,162.4 L590.0,161.5 L590.5,159.6 L590.3,157.9 L590.6,158.1 L590.8,156.7 L591.7,154.6 L592.0,156.0 L592.6,157.5 L592.7,159.4 L593.1,161.0 L593.4,162.2 L593.5,162.7 L593.8,165.0 L595.1,166.2 L595.1,166.6 L595.5,168.8 L595.5,169.3 L595.8,171.5 L596.1,169.4 L596.5,168.5 L596.6,166.3 L597.5,166.0 L598.2,163.2 L598.2,164.7 L598.5,166.0 L598.7,167.2 L598.3,167.9 L598.5,170.0 L598.7,171.4 L598.7,171.5 L598.9,173.0 L598.6,174.1 L598.9,176.1 L598.8,176.6 L598.7,178.3 L599.1,178.7 L598.9,181.0 L599.2,181.0 L599.4,183.2 L599.3,183.7 L599.5,185.1 L599.4,184.9 L599.5,182.2 L599.3,181.1 L599.3,181.1 L599.6,179.2 L599.6,178.0 L599.7,177.3 L599.7,176.3 L600.0,175.1 L600.0,172.7 L599.9,172.7 L599.9,171.0 L599.9,170.3 L600.1,168.3 L600.4,166.6 L600.0,166.0 L600.4,164.3 L600.5,164.3 L600.9,163.4 L601.0,160.8 L600.9,160.3 L600.9,159.7 L601.2,158.6 L601.5,156.4 L601.4,155.5 L601.5,153.5 L601.7,152.7 L601.8,152.4 L602.1,150.5 L601.9,149.9 L602.2,147.5 L602.6,147.8 L602.6,146.0 L603.1,144.8 L603.0,143.0 L603.0,143.2 L603.6,140.8 L603.7,139.6 L604.2,138.6 L604.6,137.6 L604.7,136.3 L606.0,136.3 L605.7,138.0 L606.2,140.5 L606.1,141.5 L606.3,141.7 L606.3,143.9 L606.4,144.5 L606.6,145.1 L606.6,147.0 L606.7,148.6 L606.6,149.4 L606.8,150.1 L607.0,152.9 L607.0,153.1 L607.0,154.3 L607.1,155.2 L607.4,156.5 L607.2,158.2 L607.1,158.8 L607.5,160.8 L607.5,160.6 L607.9,161.7 L607.7,163.8 L608.1,164.7 L607.8,165.7 L607.9,166.7 L608.3,168.6 L608.3,169.4 L608.4,171.8 L608.3,173.1 L608.5,173.9 L608.9,174.6 L609.0,175.7 L608.9,177.9 L610.0,174.4 L609.9,174.0 L610.2,172.0 L610.6,171.3 L610.8,170.2 L610.6,169.2 L611.1,168.9 L611.9,169.7 L612.1,168.5 L612.2,166.8 L612.3,167.3 L612.9,164.9 L613.0,163.3 L613.2,163.1 L613.3,161.5 L613.3,160.9 L613.3,158.3 L613.4,158.6 L613.6,155.8 L613.8,154.7 L613.9,154.6 L613.9,152.8 L614.4,152.4 L614.5,149.8 L614.7,149.6 L614.5,149.2 L614.6,148.0 L614.7,145.3 L615.2,145.0 L615.5,144.1 L615.5,142.7 L615.8,141.8 L616.2,142.6 L616.1,144.2 L616.4,144.1 L616.7,146.3 L616.8,147.0 L617.1,147.8 L617.0,149.4 L617.4,151.1 L617.3,152.3 L617.7,153.7 L617.5,153.7 L618.1,156.2 L617.8,157.5 L618.1,156.0 L618.1,154.8 L618.2,153.1 L618.3,152.4 L618.7,150.4 L618.4,149.0 L618.9,148.0 L618.6,147.6 L618.9,145.0 L619.2,144.6 L619.3,144.0 L619.4,142.9 L619.3,141.5 L619.4,140.0 L619.4,138.8 L619.4,138.0 L619.6,136.3 L620.2,135.5 L620.5,133.5 L620.4,133.3 L620.9,131.8" fill="none" stroke="#0d3758" stroke-width="2.9" stroke-linejoin="round" stroke-linecap="round"/>
<line x1="92.3" x2="623.3" y1="273.8" y2="273.8" stroke="#174568" stroke-width="1.8"/>
<g class="xlabels" stroke="#111" stroke-width="0.55"><text x="92.30" y="298.8" font-size="15.0" textLength="42.8" lengthAdjust="spacingAndGlyphs" fill="#111" text-anchor="middle" >Dec-80</text><text x="165.15" y="298.8" font-size="15.0" textLength="42.8" lengthAdjust="spacingAndGlyphs" fill="#111" text-anchor="middle" >Dec-00</text><text x="238.00" y="298.8" font-size="15.0" textLength="42.8" lengthAdjust="spacingAndGlyphs" fill="#111" text-anchor="middle" >Dec-20</text><text x="310.85" y="298.8" font-size="15.0" textLength="42.8" lengthAdjust="spacingAndGlyphs" fill="#111" text-anchor="middle" >Dec-40</text><text x="383.70" y="298.8" font-size="15.0" textLength="42.8" lengthAdjust="spacingAndGlyphs" fill="#111" text-anchor="middle" >Dec-60</text><text x="456.55" y="298.8" font-size="15.0" textLength="42.8" lengthAdjust="spacingAndGlyphs" fill="#111" text-anchor="middle" >Dec-80</text><text x="529.40" y="298.8" font-size="15.0" textLength="42.8" lengthAdjust="spacingAndGlyphs" fill="#111" text-anchor="middle" >Dec-00</text><text x="602.25" y="298.8" font-size="15.0" textLength="42.8" lengthAdjust="spacingAndGlyphs" fill="#111" text-anchor="middle" >Dec-20</text></g>
<line x1="224" x2="258" y1="339.3" y2="339.3" stroke="#e07b48" stroke-width="2.6" stroke-linecap="round"/>
<text x="261.8" y="344.65" font-size="15.5" textLength="116.5" lengthAdjust="spacingAndGlyphs" fill="#111" text-anchor="start" stroke="#111" stroke-width="0.55">Market Cap to GDP</text>
<line x1="400.5" x2="434.3" y1="339.3" y2="339.3" stroke="#0d3758" stroke-width="2.8" stroke-linecap="round"/>
<text x="438" y="344.65" font-size="15.5" textLength="34.2" lengthAdjust="spacingAndGlyphs" fill="#111" text-anchor="start" stroke="#111" stroke-width="0.55">CAPE</text>
<text x="33.1" y="393.3" font-size="14.7" textLength="275.2" lengthAdjust="spacingAndGlyphs" fill="#1b3750" text-anchor="start" stroke="#1b3750" stroke-width="0.55">Source: Robert Shiller, Federal Reserve, GMO</text>
</svg>
</body></html>
